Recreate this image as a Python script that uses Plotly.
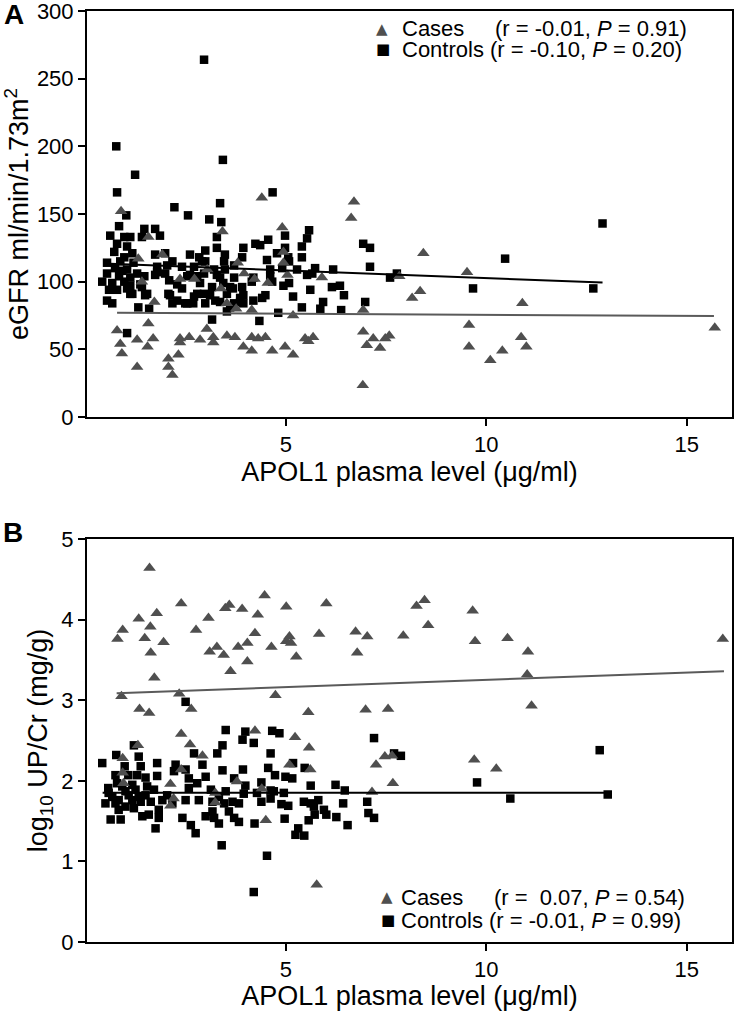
import plotly.graph_objects as go

# ---------------- data ----------------
x_ticks = [5, 10, 15]
a_y_ticks = [0, 50, 100, 150, 200, 250, 300]
b_y_ticks = [0, 1, 2, 3, 4, 5]

# Panel A: eGFR vs APOL1
a_cases = [
    (0.79, 64), (0.87, 54), (0.91, 47), (0.89, 152), (1.29, 57), (1.29, 37), (1.57, 69), (1.55, 52),
    (1.69, 58), (1.57, 133), (1.32, 117), (1.92, 120), (1.41, 100), (1.72, 85), (2.07, 43), (2.07, 37),
    (2.17, 31), (2.32, 46), (2.36, 58), (2.36, 55), (2.36, 102), (2.59, 59), (2.72, 102), (2.86, 57),
    (3.03, 65), (3.04, 109), (3.19, 59), (3.19, 55), (3.38, 95), (3.42, 137), (3.53, 60), (3.53, 84),
    (3.73, 59), (3.76, 80), (3.80, 114), (3.94, 52), (3.96, 106), (4.15, 59), (4.15, 49), (4.15, 79),
    (4.22, 102), (4.31, 58), (4.40, 162), (4.49, 59), (4.55, 99), (4.66, 49), (4.91, 140), (4.94, 122),
    (4.94, 114), (4.98, 52), (5.04, 105), (5.18, 46), (5.18, 75), (5.48, 58), (5.56, 56), (5.68, 59),
    (5.90, 103), (6.63, 147), (6.70, 159), (6.92, 23.5), (6.93, 63), (6.93, 79), (7.02, 53), (7.18, 58),
    (7.35, 51), (7.48, 58), (7.58, 60), (7.83, 104), (8.15, 88), (8.35, 93), (8.43, 121), (9.52, 107),
    (9.57, 68), (9.57, 52), (10.10, 42), (10.40, 49), (10.90, 84), (10.87, 59), (11.00, 52), (15.70, 66),
]
a_controls = [
    (0.77, 200), (0.79, 166), (1.24, 179), (2.96, 264), (3.43, 190), (2.22, 155), (2.56, 149), (3.36, 158),
    (3.09, 146), (3.39, 144), (4.67, 166), (1.02, 149), (0.84, 141), (0.62, 134), (1.47, 139), (1.74, 139),
    (1.86, 134), (3.28, 133), (4.98, 134), (5.58, 138), (5.53, 132), (6.93, 128), (12.9, 143), (10.47, 117),
    (9.67, 95), (12.67, 95), (7.6, 103), (7.77, 106), (7.1, 111), (7.1, 125), (6.98, 85),
    (0.97, 133), (1.12, 133), (0.79, 128), (1.04, 126), (0.72, 122), (0.97, 118), (1.17, 121), (0.54, 114),
    (0.87, 115), (0.74, 110), (1.04, 109), (0.54, 106), (0.84, 104), (0.67, 99), (0.97, 100), (1.12, 103),
    (0.42, 100), (0.79, 94), (1.04, 95), (0.59, 94), (1.29, 106), (1.47, 104), (1.41, 133), (0.54, 86),
    (0.67, 84), (1.04, 62), (1.32, 81), (1.59, 80), (1.17, 91), (1.37, 98), (1.54, 91), (1.12, 97),
    (1.41, 96), (1.49, 90), (1.12, 91), (0.92, 108), (1.2, 114),
    (1.79, 107), (1.74, 120), (1.79, 111), (1.74, 105), (2.04, 112), (1.99, 106), (2.07, 91), (2.17, 84),
    (2.29, 86), (2.41, 95), (2.49, 84), (2.61, 105), (2.69, 84), (2.79, 91), (2.86, 99), (2.91, 115),
    (2.99, 123), (2.61, 120), (2.84, 118), (2.99, 115), (2.71, 111), (2.09, 101), (2.17, 115), (1.99, 121),
    (2.41, 111), (2.54, 104), (2.29, 98), (2.79, 104), (2.96, 106), (2.96, 91), (2.71, 89), (2.54, 84),
    (2.11, 90), (2.99, 84),
    (3.11, 90), (3.16, 72), (3.28, 105), (3.36, 85), (3.44, 99), (3.53, 91), (3.61, 81), (3.68, 95),
    (3.86, 85), (3.94, 125), (3.28, 125), (3.48, 120), (3.46, 115), (3.21, 109), (3.48, 109), (3.36, 103),
    (3.71, 112), (3.71, 103), (3.91, 118), (3.91, 96), (3.61, 96), (3.16, 96), (3.24, 86), (3.71, 84),
    (3.86, 88), (3.53, 78), (3.94, 90), (3.94, 84),
    (4.36, 127), (4.24, 128), (4.53, 116), (4.56, 131), (4.78, 121), (4.98, 125), (5.06, 118), (5.4, 126),
    (5.4, 118), (5.08, 115), (5.28, 109), (5.53, 105), (5.66, 106), (5.73, 110), (6.18, 109), (4.61, 109),
    (4.91, 110), (4.61, 104), (4.19, 103), (4.15, 100), (4.66, 100), (4.94, 97), (5.08, 99), (5.61, 94),
    (6.15, 96), (6.35, 97), (6.45, 90), (5.18, 89), (4.49, 90), (4.41, 88), (4.19, 86), (5.4, 81),
    (5.93, 85), (5.86, 80), (6.38, 79), (4.81, 77), (4.34, 71),
]
a_fit_cases_x = [0.79, 15.68]
a_fit_cases_y = [77.0, 74.6]
a_fit_controls_x = [0.45, 12.9]
a_fit_controls_y = [113.5, 99.3]

# Panel B: log10 UP/Cr vs APOL1
b_cases = [
    (0.8, 3.76), (0.93, 3.87), (0.9, 3.05), (1.33, 4.01), (1.6, 4.64), (1.48, 3.77), (1.62, 3.91), (1.78, 4.08),
    (1.63, 3.59), (1.95, 3.72), (1.72, 3.28), (1.35, 2.89), (1.59, 2.84), (2.39, 4.2), (2.34, 3.08), (2.64, 2.89),
    (2.39, 2.58), (2.61, 2.45), (2.76, 3.87), (3.07, 4.02), (3.1, 3.6), (3.28, 3.66), (3.45, 3.56), (3.49, 4.14),
    (3.59, 4.18), (3.62, 3.36), (3.81, 3.66), (3.91, 4.13), (4.04, 3.71), (4.04, 3.48), (4.23, 3.83), (4.3, 4.06),
    (4.47, 4.3), (4.64, 3.66), (4.74, 3.06), (5.01, 4.16), (5.01, 3.73), (5.09, 3.79), (5.13, 3.71), (5.26, 3.54),
    (5.56, 2.85), (5.83, 3.82), (6.01, 4.2), (6.74, 3.85), (6.78, 3.59), (7.03, 3.79), (6.99, 2.88), (4.23, 2.62),
    (5.23, 2.54), (5.58, 2.41), (1.31, 2.44), (7.93, 3.8), (8.26, 4.17), (8.46, 4.24), (8.55, 3.93), (9.66, 4.11),
    (9.72, 3.73), (10.53, 3.77), (11.04, 3.6), (11.02, 3.32), (11.13, 2.93), (15.9, 3.76), (7.55, 2.89), (7.25, 2.2),
    (7.47, 2.3), (7.65, 2.31), (7.67, 1.97), (7.15, 1.86), (9.7, 2.26), (10.25, 2.15), (0.93, 2.28), (0.93, 2.1),
    (0.95, 1.97), (2.12, 1.96), (2.12, 1.69), (2.2, 1.78), (2.39, 2.14), (2.92, 2.31), (3.24, 1.85), (3.24, 1.73),
    (3.78, 1.99), (4.4, 1.9), (4.5, 1.51), (5.09, 2.2), (5.61, 2.14), (5.77, 0.71),
]
b_controls = [
    (0.42, 2.22), (0.77, 2.32), (1.21, 2.44), (1.33, 2.3), (0.98, 2.18), (0.75, 2.07), (0.57, 1.91), (0.79, 1.97),
    (1.07, 2.07), (1.29, 2.07), (1.5, 2.04), (1.38, 2.18), (1.79, 2.22), (1.79, 2.06), (2.25, 2.2), (2.21, 2.12),
    (2.5, 2.14), (2.58, 2.03), (2.71, 2.34), (2.92, 2.2), (3.0, 2.05), (2.79, 1.97), (2.58, 1.91), (3.29, 2.34),
    (3.42, 2.44), (3.5, 2.63), (3.92, 2.51), (3.99, 2.61), (3.42, 2.13), (3.71, 2.03), (0.5, 1.72), (0.67, 1.8),
    (0.83, 1.76), (1.0, 1.87), (1.17, 1.76), (1.25, 1.89), (1.38, 1.74), (1.5, 1.82), (1.63, 1.74), (1.71, 1.89),
    (0.63, 1.52), (0.88, 1.52), (0.83, 1.64), (1.21, 1.66), (1.42, 1.56), (1.58, 1.58), (1.83, 1.64), (1.83, 1.54),
    (1.75, 1.41), (1.92, 1.76), (2.17, 1.72), (2.04, 1.82), (2.42, 1.54), (2.5, 1.76), (2.63, 1.45), (2.75, 1.35),
    (2.83, 1.76), (3.13, 1.89), (3.17, 1.74), (3.17, 1.62), (3.0, 1.56), (3.21, 1.54), (3.33, 1.47), (3.33, 1.8),
    (3.5, 1.87), (3.46, 1.72), (3.67, 1.74), (3.58, 1.62), (3.71, 1.54), (3.83, 1.49), (3.4, 1.2), (0.58, 1.85),
    (0.92, 1.93), (1.08, 1.82), (0.75, 1.72), (1.0, 1.68), (1.33, 1.8), (1.17, 1.95), (1.54, 1.93),
    (4.2, 2.47), (4.66, 2.62), (4.84, 2.59), (4.62, 2.34), (3.93, 2.14), (4.56, 2.16), (4.73, 2.07), (4.99, 2.05),
    (5.16, 2.03), (5.18, 2.22), (5.47, 2.16), (5.62, 1.94), (3.99, 1.94), (4.39, 1.98), (4.28, 1.85), (4.62, 1.88),
    (4.7, 1.87), (4.62, 1.78), (3.95, 1.84), (4.39, 1.74), (3.83, 1.72), (4.95, 1.85), (4.89, 1.71), (5.06, 1.69),
    (5.45, 1.74), (5.62, 1.72), (5.81, 1.76), (5.7, 1.68), (5.95, 1.64), (6.01, 1.58), (5.72, 1.58), (5.57, 1.51),
    (6.26, 1.55), (6.54, 1.45), (6.24, 1.95), (6.47, 1.88), (6.43, 1.72), (7.03, 1.74), (7.06, 1.6), (7.2, 1.54),
    (7.2, 2.53), (7.7, 2.34), (7.87, 2.31), (4.97, 1.53), (4.22, 1.47), (5.31, 1.41), (5.24, 1.33), (5.46, 1.32),
    (4.53, 1.07), (12.83, 2.38), (13.03, 1.83), (10.6, 1.78), (9.77, 1.98), (4.2, 0.62), (2.5, 2.98),
]
b_fit_cases_x = [0.78, 15.93]
b_fit_cases_y = [3.085, 3.36]
b_fit_controls_x = [0.43, 13.0]
b_fit_controls_y = [1.853, 1.853]

a_legend = ["Cases\u00a0\u00a0\u00a0\u00a0\u00a0(r = -0.01, <i>P</i> = 0.91)",
            "Controls (r = -0.10, <i>P</i> = 0.20)"]
b_legend = ["Cases\u00a0\u00a0\u00a0\u00a0\u00a0(r =\u00a0 0.07, <i>P</i> = 0.54)",
            "Controls (r = -0.01, <i>P</i> = 0.99)"]

# ---------------- styling ----------------
FONT = "Liberation Sans, Arial, Helvetica, sans-serif"
GRAY = "#4f4f4f"
W, H = 737, 1011
ML, MR, MT, MB = 87, 5, 11, 69
PW = W - ML - MR
PH = H - MT - MB


def px_x(p):
    """page pixel x -> paper x"""
    return (p - ML) / PW


def px_y(p):
    """page pixel y -> paper y"""
    return (H - MB - p) / PH


def xs(pts):
    return [p[0] for p in pts]


def ys(pts):
    return [p[1] for p in pts]


fig = go.Figure()

panels = [
    ("x", "y", a_cases, a_controls, a_fit_cases_x, a_fit_cases_y, a_fit_controls_x, a_fit_controls_y),
    ("x2", "y2", b_cases, b_controls, b_fit_cases_x, b_fit_cases_y, b_fit_controls_x, b_fit_controls_y),
]
for xa, ya, cases, controls, fcx, fcy, fkx, fky in panels:
    fig.add_trace(go.Scatter(x=xs(controls), y=ys(controls), mode="markers", xaxis=xa, yaxis=ya,
                             marker=dict(symbol="square", size=8.5, color="black"), showlegend=False))
    fig.add_trace(go.Scatter(x=xs(cases), y=ys(cases), mode="markers", xaxis=xa, yaxis=ya,
                             marker=dict(symbol="triangle-up", size=11, color=GRAY), showlegend=False))
    fig.add_trace(go.Scatter(x=fkx, y=fky, mode="lines", xaxis=xa, yaxis=ya,
                             line=dict(color="black", width=2), showlegend=False))
    fig.add_trace(go.Scatter(x=fcx, y=fcy, mode="lines", xaxis=xa, yaxis=ya,
                             line=dict(color="#5a5a5a", width=2), showlegend=False))

axis_common = dict(showline=True, linecolor="black", linewidth=2, mirror=True,
                   ticks="outside", ticklen=7, tickwidth=2, tickcolor="black",
                   showgrid=False, zeroline=False, automargin=False,
                   ticklabeloverflow="allow",
                   tickfont=dict(family=FONT, size=22, color="black"))
x_range = [0.04, 16.13]

a_dom = [px_y(417), 1.0]
b_dom = [0.0, px_y(539)]

xtitle = "APOL1 plasma level (\u03bcg/ml)"
fig.update_layout(
    width=W, height=H,
    margin=dict(l=ML, r=MR, t=MT, b=MB, autoexpand=False),
    paper_bgcolor="white", plot_bgcolor="white",
    font=dict(family=FONT, color="black"),
    showlegend=False,
    xaxis=dict(axis_common, domain=[0, 1], anchor="y", range=x_range, tickvals=x_ticks,
               title=dict(text=xtitle, font=dict(size=27), standoff=6)),
    yaxis=dict(axis_common, domain=a_dom, anchor="x", range=[0, 300], tickvals=a_y_ticks,
               title=dict(text="eGFR ml/min/1.73m<sup>2</sup>", font=dict(size=27), standoff=6)),
    xaxis2=dict(axis_common, domain=[0, 1], anchor="y2", range=x_range, tickvals=x_ticks,
                title=dict(text=xtitle, font=dict(size=27), standoff=3)),
    yaxis2=dict(axis_common, domain=b_dom, anchor="x2", range=[0, 5], tickvals=b_y_ticks,
                title=dict(text="log<sub>10</sub> UP/Cr (mg/g)", font=dict(size=27), standoff=6)),
)

ann = []
# panel letters
ann.append(dict(text="<b>A</b>", x=px_x(2), y=px_y(15), xref="paper", yref="paper",
                xanchor="left", yanchor="middle", showarrow=False, font=dict(size=28)))
ann.append(dict(text="<b>B</b>", x=px_x(1), y=px_y(533), xref="paper", yref="paper",
                xanchor="left", yanchor="middle", showarrow=False, font=dict(size=28)))

# legends (symbol glyph + label)
legend_rows = [
    (a_legend[0], "\u25b2", GRAY, 382, 400, 29, 15),
    (a_legend[1], "\u25a0", "black", 383, 400, 49, 15),
    (b_legend[0], "\u25b2", GRAY, 387, 399, 897, 15),
    (b_legend[1], "\u25a0", "black", 388, 399, 920, 15),
]
for label, sym, col, sx, tx, cy, ss in legend_rows:
    ann.append(dict(text=sym, x=px_x(sx), y=px_y(cy), xref="paper", yref="paper",
                    xanchor="center", yanchor="middle", showarrow=False,
                    font=dict(size=ss, color=col, family="DejaVu Sans")))
    ann.append(dict(text=label, x=px_x(tx), y=px_y(cy), xref="paper", yref="paper",
                    xanchor="left", yanchor="middle", showarrow=False,
                    font=dict(size=22, color="black")))

fig.update_layout(annotations=ann)
# remove the default 8px page margin so the figure sits at the page's top-left corner
fig.write_html("out.html", config={"displayModeBar": False},
               post_script="document.body.style.margin='0';")
